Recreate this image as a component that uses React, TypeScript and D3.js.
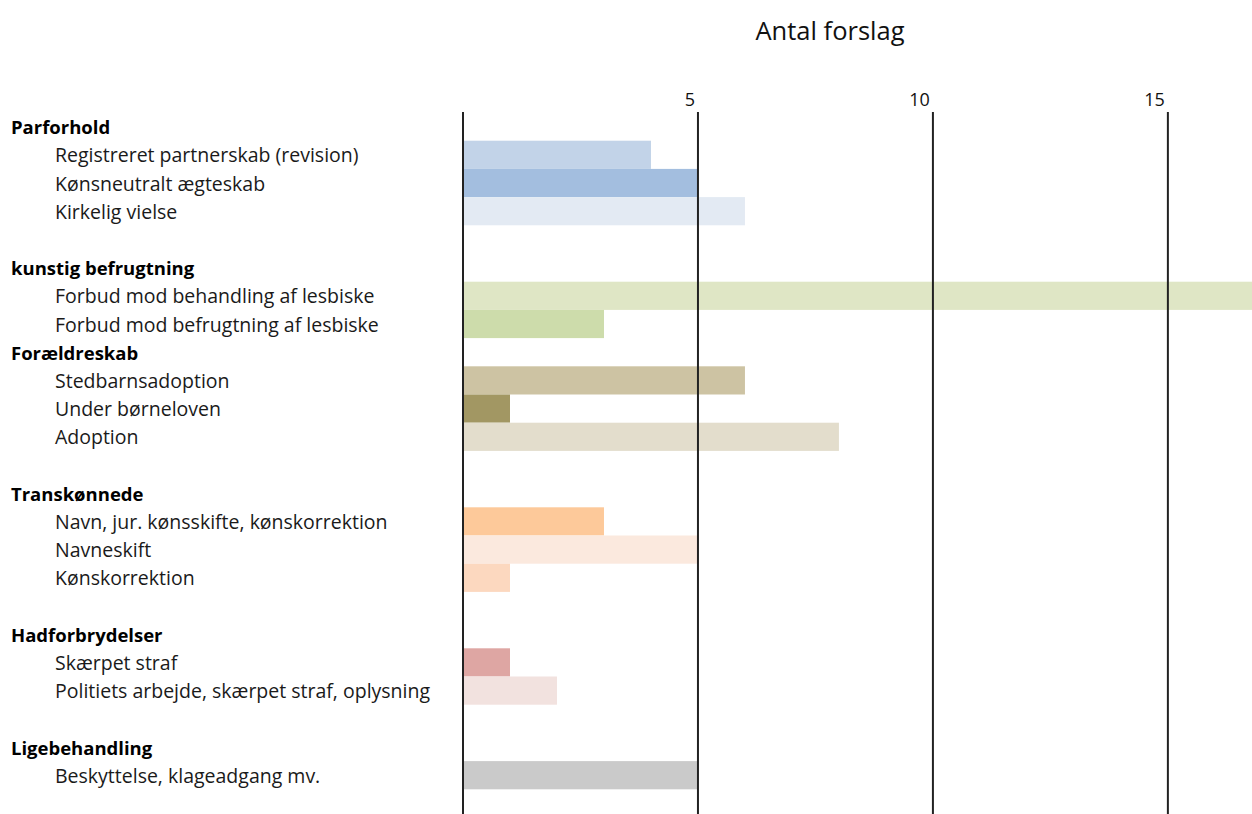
import React from "react";
import * as d3 from "d3";

const groups = ["Parforhold", "kunstig befrugtning", "Forældreskab", "Transkønnede", "Hadforbrydelser", "Ligebehandling"];
const gapAfterGroup = [1, 0, 1, 1, 1, 0];
const items = [
  "Registreret partnerskab (revision)",
  "Kønsneutralt ægteskab",
  "Kirkelig vielse",
  "Forbud mod behandling af lesbiske",
  "Forbud mod befrugtning af lesbiske",
  "Stedbarnsadoption",
  "Under børneloven",
  "Adoption",
  "Navn, jur. kønsskifte, kønskorrektion",
  "Navneskift",
  "Kønskorrektion",
  "Skærpet straf",
  "Politiets arbejde, skærpet straf, oplysning",
  "Beskyttelse, klageadgang mv.",
];
const itemGroup = [0, 0, 0, 1, 1, 2, 2, 2, 3, 3, 3, 4, 4, 5];
const values = [4, 5, 6, 17, 3, 6, 1, 8, 3, 5, 1, 1, 2, 5];
const colors = [
  "#c2d3e8", "#a3bedf", "#e3eaf3",
  "#dfe6c5", "#cddcab",
  "#cdc3a3", "#a29763", "#e3ddcc",
  "#fdc99a", "#fbe9de", "#fcd8bf",
  "#dea6a3", "#f2e2df",
  "#cacaca",
];
const tickValues = [5, 10, 15];
const title = "Antal forslag";

type Row = { kind: "group" | "item" | "blank"; label: string; idx: number };

function buildRows(): Row[] {
  const rows: Row[] = [];
  groups.forEach((g, gi) => {
    rows.push({ kind: "group", label: g, idx: gi });
    items.forEach((it, ii) => {
      if (itemGroup[ii] === gi) rows.push({ kind: "item", label: it, idx: ii });
    });
    for (let k = 0; k < gapAfterGroup[gi]; k++) rows.push({ kind: "blank", label: "", idx: -1 });
  });
  return rows;
}

export default function App() {
  const W = 1252, H = 814;
  const rows = buildRows();
  const x = d3.scaleLinear().domain([0, 16.79]).range([463, 1252]);
  const y = d3.scaleBand<number>().domain(rows.map((_, i) => i)).range([112.5, 112.5 + rows.length * 28.2]).padding(0);
  const font = "'Open Sans', sans-serif";
  return (
    <svg width={W} height={H} style={{ position: "absolute", left: 0, top: 0, background: "#fff" }} fontFamily={font}>
      <defs>
        <clipPath id="plot"><rect x={0} y={0} width={W} height={H} /></clipPath>
      </defs>
      <text x={830} y={30} textAnchor="middle" dominantBaseline="central" fontSize={25.5} fill="#111">{title}</text>
      {rows.map((r, i) => {
        if (r.kind !== "item") return null;
        const v = values[r.idx];
        return (
          <rect key={"b" + i} x={x(0)} y={y(i)!} width={Math.min(x(v), W) - x(0)} height={y.bandwidth()} fill={colors[r.idx]} clipPath="url(#plot)" />
        );
      })}
      {[0, ...tickValues].map((t) => (
        <line key={"g" + t} x1={x(t)} x2={x(t)} y1={112} y2={H} stroke="#222" strokeWidth={2} />
      ))}
      {tickValues.map((t) => (
        <text key={"t" + t} x={x(t) - 3} y={99} textAnchor="end" dominantBaseline="central" fontSize={18} fill="#111">{t}</text>
      ))}
      {rows.map((r, i) => {
        if (r.kind === "blank") return null;
        const cy = y(i)! + y.bandwidth() / 2;
        return r.kind === "group" ? (
          <text key={"l" + i} x={11} y={cy} dominantBaseline="central" fontSize={18.5} fontWeight="bold" fill="#000">{r.label}</text>
        ) : (
          <text key={"l" + i} x={55} y={cy} dominantBaseline="central" fontSize={19.5} fill="#1a1a1a">{r.label}</text>
        );
      })}
    </svg>
  );
}
